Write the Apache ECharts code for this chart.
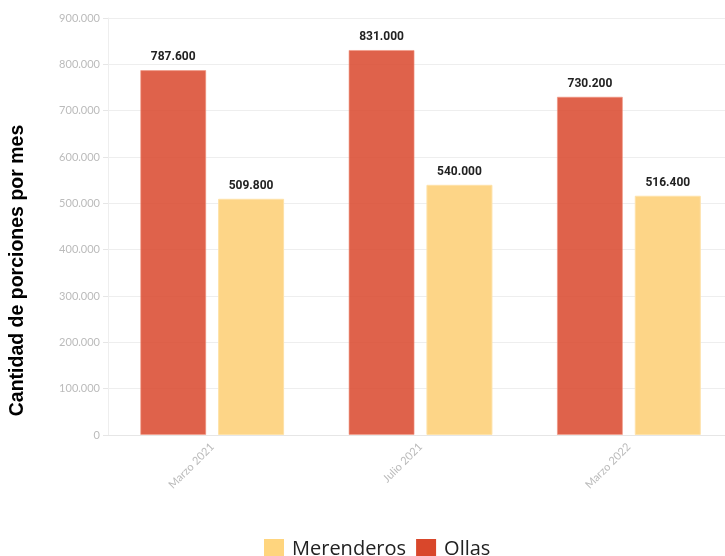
<!DOCTYPE html>
<html>
<head>
<meta charset="utf-8">
<script src="https://cdn.jsdelivr.net/npm/echarts@6/dist/echarts.min.js"></script>
<style>html,body{margin:0;padding:0;background:#fff}#c{width:725px;height:556px}</style>
</head>
<body>
<div id="c"></div>
<script>
const categories = ['Marzo 2021', 'Julio 2021', 'Marzo 2022'];
const ollas = [787600, 831000, 730200];
const merenderos = [509800, 540000, 516400];
const yTicks = { min: 0, max: 900000, interval: 100000 };

function fmt(v) {
  return String(Math.round(v)).replace(/\B(?=(\d{3})+(?!\d))/g, '.');
}

const chart = echarts.init(document.getElementById('c'));
const labelStyle = {
  show: true, position: 'top', distance: 7,
  fontFamily: 'Roboto', fontWeight: 'bold', fontSize: 12, color: '#222',
  formatter: p => fmt(p.value)
};
chart.setOption({
  animation: false,
  grid: { left: 108, right: -8, top: 18, bottom: 121, containLabel: false, outerBoundsMode: 'none' },
  legend: {
    top: 534, left: 259, itemWidth: 20, itemHeight: 20, itemGap: 10,
    data: [
      { name: 'Merenderos', itemStyle: { color: '#FFD57E', borderWidth: 0, opacity: 1 } },
      { name: 'Ollas', itemStyle: { color: '#D9472B', borderWidth: 0, opacity: 1 } }
    ],
    textStyle: { fontFamily: 'Open Sans', fontSize: 20, color: '#222', padding: [0, 0, 0, 3] },
    icon: 'rect'
  },
  xAxis: {
    type: 'category', data: categories,
    axisLine: { lineStyle: { color: '#e6e6e6' } },
    axisTick: { alignWithLabel: true, length: 6, lineStyle: { color: '#ddd' } },
    axisLabel: { rotate: 45, color: '#bbb', fontFamily: 'Lato', fontSize: 11, margin: 10 }
  },
  yAxis: {
    type: 'value', min: yTicks.min, max: yTicks.max, interval: yTicks.interval,
    name: 'Cantidad de porciones por mes', nameLocation: 'middle', nameGap: 80, nameRotate: 90,
    nameTextStyle: { fontFamily: 'Liberation Sans', fontWeight: 'bold', fontSize: 19.5, color: '#000', padding: [0, 88, 0, 0] },
    axisLine: { show: true, lineStyle: { color: '#eeeeee' } },
    axisTick: { show: true, length: 5, lineStyle: { color: '#e6e6e6' } },
    splitLine: { lineStyle: { color: '#eeeeee' } },
    axisLabel: { color: '#bbb', fontFamily: 'Lato', fontSize: 11, margin: 8, formatter: v => fmt(v) }
  },
  series: [
    {
      name: 'Ollas', type: 'bar', data: ollas, barWidth: 66, barGap: '18%',
      itemStyle: { color: 'rgba(217,71,43,0.85)', borderColor: 'rgba(240,150,130,0.6)', borderWidth: 1 },
      label: labelStyle
    },
    {
      name: 'Merenderos', type: 'bar', data: merenderos, barWidth: 66,
      itemStyle: { color: '#FDD587', borderColor: '#FEE2A8', borderWidth: 1 },
      label: labelStyle
    }
  ]
});
</script>
</body>
</html>
